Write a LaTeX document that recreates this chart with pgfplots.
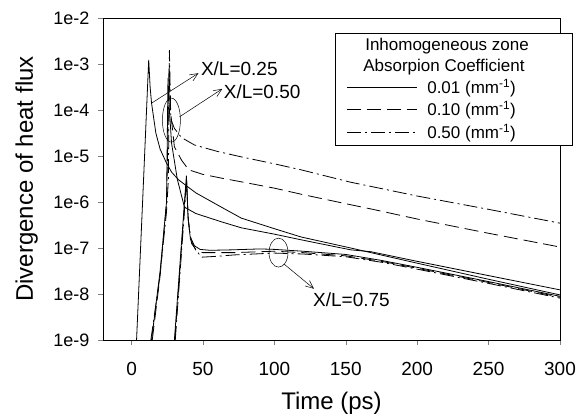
\documentclass[border=0pt]{standalone}
\usepackage{pgfplots}
\pgfplotsset{compat=1.18}
\usepackage{fontspec}
\setmainfont{Liberation Sans}
\usetikzlibrary{arrows.meta}

\tikzset{
  solidc/.style={black, line width=0.8pt},
  dashc/.style={black, line width=0.8pt, dash pattern=on 14pt off 6pt},
  dashdotc/.style={black, line width=0.8pt, dash pattern=on 14pt off 4pt on 2pt off 4pt},
  annarrow/.style={black, line width=0.5pt, -{Straight Barb[length=8pt,width=7pt]}},
}

\begin{document}
\begin{tikzpicture}
\begin{axis}[name=ax, scale only axis, width=457pt, height=322pt,
  ymode=log, xmin=-20, xmax=300, ymin=1e-9, ymax=1e-2,
  xtick={0,50,100,150,200,250,300},
  xticklabels={0,50,100,150,200,250,300},
  ytick={1e-9,1e-8,1e-7,1e-6,1e-5,1e-4,1e-3,1e-2},
  yticklabels={1e-9,1e-8,1e-7,1e-6,1e-5,1e-4,1e-3,1e-2},
  yminorticks=false,
  tick align=outside, xtick pos=bottom, ytick pos=left, major tick length=5pt,
  axis line style={line width=0.7pt},
  xlabel={Time (ps)}, ylabel={Divergence of heat flux},
  xlabel style={at={(axis description cs:0.5,-0.196)}, anchor=center, font=\fontsize{24}{28}\selectfont},
  ylabel style={at={(axis description cs:-0.167,0.5)}, anchor=center, font=\fontsize{24}{28}\selectfont},
  xticklabel style={font=\fontsize{19}{22}\selectfont, yshift=-14pt},
  yticklabel style={font=\fontsize{18}{21}\selectfont, xshift=-5pt},
  legend style={at={(axis description cs:0.507,0.953)}, anchor=north west, draw=black, line width=0.6pt,
    font=\fontsize{17}{19}\selectfont, inner xsep=12pt, inner ysep=3pt, column sep=7.5pt, row sep=2.5pt},
  legend cell align=left,
  legend image code/.code={\draw[#1] (0pt,0pt) -- (70pt,0pt);},
]
\addlegendimage{empty legend}\addlegendentry{\hspace*{-62pt}Inhomogeneous zone}
\addlegendimage{empty legend}\addlegendentry{\hspace*{-64pt}Absorpion Coefficient\hspace*{34pt}\rule[-5pt]{0pt}{5pt}}
\addlegendimage{solidc}\addlegendentry{0.01 (mm\textsuperscript{-1})}
\addlegendimage{dashc}\addlegendentry{0.10 (mm\textsuperscript{-1})}
\addlegendimage{dashdotc}\addlegendentry{0.50 (mm\textsuperscript{-1})\rule[-18pt]{0pt}{18pt}}

% X/L = 0.25 (all coefficients nearly coincide)
\addplot[solidc, forget plot] coordinates {
(3.5,1e-9) (8,1.58e-6) (12,1.23e-3) (13,3.16e-4) (14,1.41e-4) (17,3.16e-5) (20,1.41e-5)
(24.4,7.08e-6) (28,4.47e-6) (33,3.02e-6) (45,1.58e-6) (62.8,7.76e-7) (76.8,4.47e-7)
(100,2.63e-7) (118.6,1.74e-7) (153.5,1.0e-7) (167.5,7.94e-8) (200,4.68e-8) (250,2.09e-8) (300,9.55e-9)};

% X/L = 0.50
\addplot[solidc, forget plot] coordinates {
(14,1e-9) (20,3.16e-8) (24.5,1e-6) (25.5,5.01e-4) (26.5,1e-4) (28,1.91e-5) (32,3.16e-6)
(37,7.76e-7) (45,5.62e-7) (62.8,3.72e-7) (76.8,2.75e-7) (100,2.0e-7) (118.6,1.51e-7)
(153.5,9.12e-8) (167.5,8.32e-8) (200,5.13e-8) (250,2.51e-8) (300,1.23e-8)};
\addplot[dashc, forget plot] coordinates {
(14.5,1e-9) (20,2.51e-8) (24.5,1e-6) (25.5,3.16e-5) (26.2,7.94e-4) (27.2,1e-4) (30,1.58e-5)
(35,8.13e-6) (40,5.01e-6) (50,3.98e-6) (62.8,3.31e-6) (76.8,2.75e-6) (100,2.0e-6)
(118.6,1.48e-6) (153.5,8.71e-7) (167.5,7.08e-7) (200,4.27e-7) (250,2.09e-7) (300,1.05e-7)};
\addplot[dashdotc, forget plot] coordinates {
(13.5,1e-9) (19.5,2e-8) (24.4,5.75e-7) (25.8,3.16e-6) (26.5,2e-3) (27.5,6.31e-5) (30,3.98e-5)
(35,2.51e-5) (44,1.74e-5) (60,1.26e-5) (77,9.55e-6) (100,6.76e-6) (118.6,5.01e-6)
(153.5,2.69e-6) (200,1.35e-6) (250,6.92e-7) (300,3.47e-7)};

% X/L = 0.75
\addplot[solidc, forget plot] coordinates {
(30,1e-9) (38,2.51e-6) (38.4,3.72e-6) (39.5,5.01e-7) (41,1.78e-7) (44,1.12e-7) (48,9.33e-8)
(55,8.91e-8) (70,9.12e-8) (90,9.55e-8) (100,9.33e-8) (120,8.51e-8) (150,7.24e-8)
(175,5.37e-8) (200,3.80e-8) (250,1.86e-8) (300,8.91e-9)};
\addplot[dashc, forget plot] coordinates {
(30.3,1e-9) (38.2,2.51e-6) (38.5,3.16e-6) (39.6,4.47e-7) (41.2,1.58e-7) (45,8.91e-8)
(50,7.94e-8) (72,7.94e-8) (100,8.51e-8) (120,7.94e-8) (150,6.76e-8) (175,5.13e-8)
(200,3.63e-8) (250,1.78e-8) (300,8.51e-9)};
\addplot[dashdotc, forget plot] coordinates {
(30.6,1e-9) (38.4,2.51e-6) (38.6,2.9e-6) (39.7,3.98e-7) (42,1.26e-7) (48.8,6.31e-8)
(60,6.61e-8) (72,7.08e-8) (100,7.76e-8) (120,7.41e-8) (150,6.46e-8) (175,4.90e-8)
(200,3.47e-8) (250,1.70e-8) (300,8.13e-9)};

% annotations
\draw[line width=0.5pt] (axis cs:27.9,6.03e-5) ellipse [x radius=9pt, y radius=22pt];
\draw[line width=0.5pt] (axis cs:102.9,7.94e-8) ellipse [x radius=9.5pt, y radius=14.5pt];
\draw[annarrow] (axis cs:14,1.41e-4) -- (axis cs:46.8,6.31e-4);
\draw[annarrow] (axis cs:33.5,7.08e-5) -- (axis cs:63.5,2.88e-4);
\draw[annarrow] (axis cs:106.8,4.47e-8) -- (axis cs:127.7,1.3e-8);
\node[anchor=west, inner sep=0pt, font=\fontsize{19}{22}\selectfont] at (axis cs:48.5,8.1e-4) {X/L=0.25};
\node[anchor=west, inner sep=0pt, font=\fontsize{19}{22}\selectfont] at (axis cs:64.5,2.45e-4) {X/L=0.50};
\node[anchor=west, inner sep=0pt, font=\fontsize{19}{22}\selectfont] at (axis cs:127,7.41e-9) {X/L=0.75};
\end{axis}
\pgfresetboundingbox
\path ([xshift=-103pt,yshift=-75pt]ax.south west) rectangle ([xshift=18pt,yshift=18pt]ax.north east);
\end{tikzpicture}
\end{document}
